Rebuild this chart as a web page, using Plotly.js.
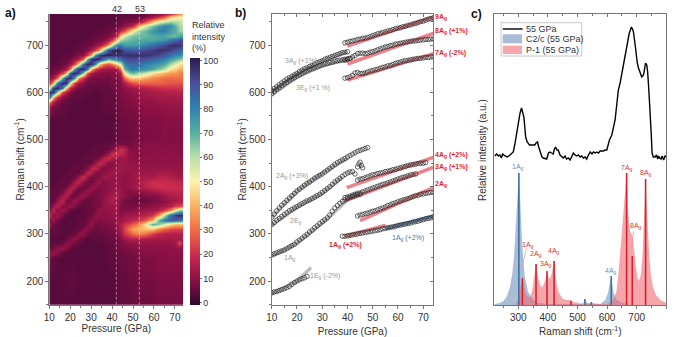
<!DOCTYPE html>
<html><head><meta charset="utf-8">
<script src="https://cdn.plot.ly/plotly-3.0.1.min.js"></script>
<style>html,body{margin:0;padding:0;background:#fff}#g{width:674px;height:337px}</style>
</head><body><div id="g"></div>
<script>
// ---------- panel a: intensity map ----------
const mapPressure=[10,12,14,16,18,20,22,24,26,28,30,32,34,36,38,40,42,44,46,48,50,53,56,59,62,65,68,70,72,74];
const mapShift=[150,200,250,260,270,280,290,300,310,320,330,340,350,360,370,380,390,400,410,420,430,440,450,460,470,480,490,500,540,570,580,590,600,610,620,630,640,650,660,670,680,690,700,710,720,730,740,750,760,766];
const mapIntensity=[
[4,4,4,4,4,4,4,4,4,4,4,4,4,4,4,4,5,5,5,5,6,6,6,6,7,7,7,7,7,7],
[4,4,4,4,5,5,5,4,4,4,4,4,4,4,4,4,5,5,5,6,6,7,7,7,8,8,8,8,8,8],
[7,5,4,4,4,4,4,4,4,4,4,4,4,4,5,5,5,6,6,7,7,8,8,8,9,9,9,9,9,9],
[11,11,9,5,4,4,4,4,4,4,4,4,4,4,5,5,5,6,7,7,8,8,9,9,9,9,10,10,10,10],
[5,7,10,11,9,5,4,4,4,4,4,4,4,4,5,5,6,7,8,8,9,9,9,10,9,10,10,10,11,10],
[4,5,5,6,10,10,6,5,4,4,4,4,4,5,5,5,6,8,9,10,11,11,11,11,11,11,11,12,26,12],
[4,4,4,4,5,8,11,8,5,4,4,5,5,5,6,6,7,9,12,15,16,15,14,14,13,13,13,14,14,14],
[5,5,5,4,4,5,6,10,10,6,5,5,5,6,6,7,8,12,20,25,30,32,30,22,18,16,15,15,15,16],
[5,5,5,4,4,4,4,5,9,10,7,6,6,7,7,8,10,14,24,32,38,40,42,42,34,28,25,24,24,24],
[12,6,5,4,4,4,4,5,5,8,11,7,7,8,8,9,11,14,20,24,28,34,48,70,66,56,46,42,42,44],
[8,12,7,4,4,4,4,5,5,6,9,10,8,9,9,10,12,12,14,16,18,22,26,38,68,82,88,88,84,80],
[19,9,12,8,4,4,4,4,5,6,6,10,10,9,10,11,12,10,12,12,13,15,17,20,34,58,84,94,98,95],
[9,18,8,12,10,5,4,4,5,5,6,7,11,10,11,12,13,8,8,9,10,11,12,13,15,22,32,50,62,65],
[5,11,18,8,10,12,8,5,5,5,6,7,8,11,11,12,14,8,7,7,7,8,9,10,11,13,16,22,24,28],
[5,5,11,18,7,8,12,10,5,5,6,7,8,10,14,14,14,9,7,6,6,6,6,7,8,10,12,14,15,16],
[5,5,6,13,16,7,6,10,12,8,6,7,8,10,12,14,16,12,10,8,7,7,8,8,9,12,14,15,16,17],
[5,5,5,6,14,16,7,5,8,12,10,7,8,9,10,12,13,12,10,9,10,11,12,13,15,17,18,18,18,18],
[4,5,5,5,6,14,16,8,6,7,11,11,8,9,10,11,12,11,10,11,13,15,17,19,20,20,20,20,19,19],
[4,4,5,5,5,6,14,18,10,6,6,10,12,9,10,11,11,11,10,11,12,14,17,20,20,19,19,18,18,17],
[4,4,4,5,5,5,6,12,20,12,6,7,9,12,12,11,11,11,10,11,12,14,14,14,16,17,15,14,14,14],
[4,4,4,4,5,5,5,5,9,18,15,8,8,10,11,13,13,12,11,11,12,12,12,12,14,14,13,12,12,12],
[4,4,4,4,4,5,5,5,5,8,17,19,12,8,9,11,11,13,12,11,11,11,11,11,11,12,11,11,11,11],
[4,4,4,4,4,4,5,5,5,5,6,12,19,16,9,10,11,12,12,11,11,10,10,10,10,10,10,10,10,10],
[4,4,4,4,4,4,4,4,5,5,5,6,8,16,20,14,13,12,13,10,10,10,10,10,10,10,10,10,10,10],
[4,4,4,4,4,4,4,4,4,5,5,5,5,6,12,21,20,18,15,10,10,9,9,10,10,9,10,10,9,10],
[4,4,4,4,4,4,4,4,4,4,5,5,5,5,6,9,14,20,18,8,9,9,9,9,9,10,9,9,9,9],
[4,4,4,4,4,4,4,4,4,4,4,4,5,5,5,6,7,8,7,7,8,8,9,9,9,9,9,9,9,9],
[4,4,4,4,4,4,4,4,4,4,4,4,4,4,4,5,5,6,6,6,7,7,8,8,8,9,8,8,9,8],
[4,4,4,4,4,4,4,4,4,4,4,4,4,4,4,4,5,6,6,7,7,8,8,8,8,9,9,9,9,9],
[12,7,6,5,5,4,4,4,4,4,4,4,4,5,5,5,6,7,7,8,8,9,10,10,10,10,11,11,11,11],
[32,14,9,6,5,5,4,4,4,4,4,4,4,5,5,5,6,7,8,8,9,10,10,11,11,12,12,12,12,12],
[90,40,19,10,7,6,5,5,5,4,4,4,4,5,5,5,6,8,8,9,10,11,12,12,13,13,13,14,14,14],
[98,96,62,25,14,8,6,5,5,5,5,4,4,5,5,6,7,8,9,10,11,12,13,14,15,16,16,16,16,16],
[50,96,99,82,40,17,10,7,6,5,5,5,5,5,5,6,7,8,10,12,13,14,16,18,19,20,20,20,21,21],
[17,40,85,99,96,50,23,13,9,6,6,6,6,6,6,7,7,9,14,22,26,28,28,28,28,28,26,26,26,26],
[8,14,28,70,96,98,76,36,19,10,7,7,7,7,7,8,8,10,28,42,44,42,38,34,32,30,30,30,30,30],
[6,7,11,21,40,90,100,93,62,25,14,10,9,9,8,9,9,14,50,65,68,62,58,48,44,40,36,36,34,32],
[5,6,6,9,14,32,76,97,99,82,40,23,16,13,12,12,12,30,70,80,82,78,76,72,66,60,48,44,40,38],
[4,5,5,6,7,12,23,45,85,99,96,76,45,32,26,33,42,55,80,84,85,84,80,78,75,72,62,54,48,44],
[4,4,4,5,5,7,10,15,28,70,96,100,97,85,70,76,82,84,90,92,92,90,90,86,84,80,74,70,66,60],
[4,4,4,4,5,5,6,8,11,21,40,76,93,99,100,97,97,96,96,97,97,97,96,95,93,88,84,80,78,72],
[4,4,4,4,4,4,5,5,6,9,14,23,36,62,90,97,100,98,90,90,88,90,92,94,97,96,94,90,88,84],
[4,4,4,4,4,4,4,5,5,6,7,10,13,19,35,58,78,80,74,74,74,76,80,84,88,92,96,97,96,92],
[4,4,4,4,4,4,4,4,4,5,6,6,7,9,14,24,42,62,66,68,70,70,72,72,74,76,82,86,90,90],
[4,4,4,4,4,4,4,4,4,4,5,5,6,6,8,11,16,44,56,64,67,68,68,70,72,72,68,68,72,74],
[4,4,4,4,4,4,4,4,4,4,4,4,5,5,6,7,9,18,26,42,54,64,68,76,80,80,74,70,64,62],
[4,4,4,4,4,4,4,4,4,4,4,4,4,4,5,5,6,8,11,15,20,44,56,66,74,80,78,70,62,58],
[4,4,4,4,4,4,4,4,4,4,4,4,4,4,4,4,5,6,7,8,9,14,26,42,54,60,64,62,60,56],
[4,4,4,4,4,4,4,4,4,4,4,4,4,4,4,4,4,5,5,5,5,6,8,13,20,28,44,48,50,50],
[4,4,4,4,4,4,4,4,4,4,4,4,4,4,4,4,4,5,5,5,5,5,6,8,10,14,20,30,35,40]];
const mapStops=['#2f0a2c','#5a0a3c','#8a1044','#c92a4e','#ee6a44','#fab262','#fdf2ae','#b8dfa9','#55ad9f','#2f80b0','#4b4e9b','#2a1c47'];
const mapStopAt=[0,.05,.1,.2,.3,.4,.5,.6,.7,.8,.9,1];
const transitions=[42,53];

// ---------- panel b: mode positions ----------
const pressures=[10,11,12,13,14,15,16,17,18,19,20,21,22,23,24,25,26,27,28,29,30,31,32,33,34,35,36,37,38,39,40,41,42,43,44,45,46,47,48,49,50,51,52,53,54,55,56,57,58,59,60,61,62,63,64,65,66,67,68,69,70,71,72,73,74];
const from=(start,vals)=>pressures.slice(start-10,start-10+vals.length);
const m3Ag=[604,608,612,616,620,624,628,631,634,637,640,644,647,650,652,655,657,660,663,665,667,670,672,674,676,678,680,682,684,685,686];
const m3Eg=[597,602,606,610,614,618,621,625,628,631,634,637,640,643,645,648,650,652,654,656,658,660,661,663,664,666,667,668,669,670,671,672];
const m9A=[705,706,708,709,710,712,713,714,715,716,718,720,722,724,725,727,728,730,731,733,735,736,737,739,740,742,743,745,746,748,750,751,753,755,756,758];
const m8A=[668,670,672,675,678,682,683,683,682,683,685,686,688,690,692,694,696,697,699,700,702,703,704,705,706,707,708,709,709,710,711,711,712,712,713,713];
const m7A=[630,631,633,636,641,642,640,640,641,643,645,646,648,649,651,653,654,656,657,659,661,663,664,666,667,668,669,670,671,672,672,673,674,674,675,675];
const m4A=[414,416,417,419,421,423,425,426,428,429,430,432,433,434,436,437,439,440,442,443,445,446,447,448,449,450,450,451];
const m3A=[377,378,380,382,384,386,387,389,391,393,395,397,399,401,403,405,406,408,410,412,414,416,418,420,421,423,425,426,427];
const m2A=[338,340,341,343,344,346,348,349,351,353,355,357,360,362,364,366,368,370,372,373,375,377,379,381,382,384,385,386,387,388,388];
const m1Ahigh=[295,295,296,297,298,299,300,301,302,303,304,305,306,307,308,309,311,312,313,314,315,316,318,319,320,321,322,323,325,326,327,329,330,332,333,334,336];
const m2Ag=[335,342,349,355,361,366,371,376,381,386,391,395,399,403,407,410,414,418,421,424,427,431,435,439,443,447,451,454,457,460,463,466,469,472,475,477,479,481,483];
const m2Eg=[320,324,329,333,337,341,345,349,352,355,358,361,364,367,370,372,375,378,381,384,388,392,396,400,405,410,414,418,422,426,429,431,432,427];
const m1Ag=[256,258,260,262,264,266,269,272,275,278,283,287,291,295,299,304,308,313,317,322,326,330,334,340,348,355,360,365,369,372,375,377,379,381,383,384];
const m1Eg=[175,177,178,180,182,184,186,189,193,197,200,203,205,207,210];
const clusterP=[44,44.5,45,45.5,46], clusterW=[442,448,452,445,440];
const modeSeries=[[10,m3Ag],[10,m3Eg],[39,m9A],[39,m8A],[39,m7A],[44,m4A],[39,m3A],[44,m2A],[38,m1Ahigh],[10,m2Ag],[10,m2Eg],[10,m1Ag],[10,m1Eg]];
const calcGrey=[[[10,20,30,40],[601,640,666,686]],[[10,20,30,41],[594,632,656,670]],[[10,20,30,40],[335,390,428,460]],[[10,20,30,38],[318,356,385,420]],[[10,20,30,40],[252,280,322,372]],[[10,20,25.6],[173,200,229]]];
const calcRed=[[[40,74],[698,760]],[[40,74],[660,725]],[[40,74],[626,682]],[[39.7,74],[398,462]],[[39,74],[370,441]],[[45,74],[328,398]],[[39,55],[295,318]]];
const calcBlue=[[55,74],[311,338]];

// ---------- panel c: spectra ----------
const expX=[220,227,233,238,243,247,255,263,272,283,288,294,298,302,306,311,315,319,325,330,338,345,356,360,365,369,373,380,385,396,402,407,412,418,422,426,431,435,441,447,452,458,463,469,475,480,486,492,497,503,509,514,520,526,531,537,543,549,554,560,565,571,576,582,588,593,599,608,616,627,633,638,644,650,658,663,667,671,675,679,682,686,689,694,698,702,706,712,717,723,727,730,734,737,741,746,749,752,756,762,767,771,774,778,782,786,791,796,800];
const expY=[149,151,149,150,147,151,149,148,150,153,160,172,180,186,192,197,191,188,168,163,160,160,160,162,163,158,155,148,147,146,152,153,152,151,156,158,155,155,150,148,147,149,146,147,145,148,152,150,149,150,148,149,147,148,146,150,153,151,153,152,153,152,154,154,154,155,155,165,170,185,203,215,222,232,243,252,262,267,272,275,278,276,273,262,248,242,237,232,228,230,236,242,240,233,215,192,172,152,148,148,150,146,149,147,146,149,145,149,148];
const blueX=[220,238,250,262,272,280,286,291,295,299,302,305,309,313,318,322,328,333,342,350,362,373,407,514,520,525,530,536,548,577,594,603,608,614,618,621,627,633,645,655,678];
const blueY=[1,2,4,9,18,32,50,75,97,120,132,115,85,62,42,28,20,13,9,6,3,2,1,1,2,6,3,2,2,1,5,12,20,29,20,14,8,5,3,2,0];
const pinkX=[220,290,300,306,310,314,318,325,332,340,347,353,358,360,363,368,375,382,390,395,397,400,405,412,418,421,424,430,438,448,460,470,478,486,500,520,600,612,622,632,638,644,650,655,661,664,666,670,675,680,685,690,696,702,708,714,720,725,728,730,733,737,742,748,755,765,780,800];
const pinkY=[0,0,6,14,22,27,20,12,8,8,14,26,38,41,34,26,19,18,24,32,34,29,26,30,41,44,34,20,12,7,5,5,5,3,2,1,1,3,6,14,30,52,72,88,110,125,132,98,78,72,70,58,40,28,24,30,52,90,112,125,105,78,50,30,18,10,5,2];
const blueStickX=[302,525,547,614], blueStickY=[132,6,3,29];
const redStickX=[314,360,397,421,478,666,685,730], redStickY=[27,41,34,44,4,132,49,126];

const FONT='"Liberation Sans", Arial, sans-serif', INK='#333', AXIS='#777';
const X=p=>p/674, Y=p=>1-p/337;
const traces=[];
traces.push({type:'heatmap',x:mapPressure,y:mapShift,z:mapIntensity,zsmooth:'best',zmin:-1,zmax:101,
  colorscale:mapStopAt.map((s,i)=>[s,mapStops[i]]),xaxis:'x',yaxis:'y',
  colorbar:{x:X(190),xanchor:'left',y:Y(305),yanchor:'bottom',lenmode:'pixels',len:247,thicknessmode:'pixels',thickness:10,xpad:0,ypad:0,outlinewidth:0,tick0:0,dtick:10,ticks:'outside',ticklen:2,tickcolor:'#777',tickfont:{family:FONT,size:9,color:INK}}});
const grey='rgba(170,170,170,.75)', red='rgba(232,80,92,.72)', blue='rgba(80,120,170,.8)';
calcGrey.forEach(l=>traces.push({type:'scatter',mode:'lines',x:l[0],y:l[1],line:{color:grey,width:3.5},xaxis:'x2',yaxis:'y2',showlegend:false}));
calcRed.forEach(l=>traces.push({type:'scatter',mode:'lines',x:l[0],y:l[1],line:{color:red,width:3.5},xaxis:'x2',yaxis:'y2',showlegend:false}));
traces.push({type:'scatter',mode:'lines',x:calcBlue[0],y:calcBlue[1],line:{color:blue,width:3.5},xaxis:'x2',yaxis:'y2',showlegend:false});
const ring={symbol:'circle-open',size:4.5,color:'#2a2a2a',line:{width:.7}};
modeSeries.forEach(s=>traces.push({type:'scatter',mode:'markers',x:from(s[0],s[1]),y:s[1],marker:ring,xaxis:'x2',yaxis:'y2',showlegend:false}));
traces.push({type:'scatter',mode:'markers',x:clusterP,y:clusterW,marker:ring,xaxis:'x2',yaxis:'y2',showlegend:false});
traces.push({type:'scatter',mode:'lines',x:[10],y:[200],opacity:0,xaxis:'x4',yaxis:'y4',showlegend:false});
traces.push({type:'scatter',mode:'lines',x:[300],y:[10],opacity:0,xaxis:'x5',yaxis:'y5',showlegend:false});
traces.push({type:'scatter',mode:'lines',name:'C2/c (55 GPa)',x:blueX,y:blueY,fill:'tozeroy',fillcolor:'rgba(82,125,175,.5)',line:{width:0,color:'rgba(82,125,175,.5)'},xaxis:'x3',yaxis:'y3',showlegend:false});
traces.push({type:'scatter',mode:'lines',name:'P-1 (55 GPa)',x:pinkX,y:pinkY,fill:'tozeroy',fillcolor:'rgba(240,105,115,.6)',line:{width:0,color:'rgba(240,105,115,.6)'},xaxis:'x3',yaxis:'y3',showlegend:false});
const sticks=(xs,ys)=>({x:xs.flatMap(v=>[v,v,null]),y:ys.flatMap(v=>[0,v,null])});
traces.push(Object.assign({type:'scatter',mode:'lines',line:{color:'#3f70a8',width:1.6},xaxis:'x3',yaxis:'y3',showlegend:false},sticks(blueStickX,blueStickY)));
traces.push(Object.assign({type:'scatter',mode:'lines',line:{color:'#d4232c',width:1.6},xaxis:'x3',yaxis:'y3',showlegend:false},sticks(redStickX,redStickY)));
traces.push({type:'scatter',mode:'lines',x:[312,328],y:[38,57],line:{color:'#e88',width:.6},xaxis:'x3',yaxis:'y3',showlegend:false});
traces.push({type:'scatter',mode:'lines',x:[682,690],y:[56,74],line:{color:'#e88',width:.6},xaxis:'x3',yaxis:'y3',showlegend:false});
traces.push({type:'scatter',mode:'lines',name:'55 GPa',x:expX,y:expY,line:{color:'#000',width:1.4},xaxis:'x3',yaxis:'y3',showlegend:false});

const tf={family:FONT,size:10,color:INK}, titleF={family:FONT,size:10,color:INK};
const base={showgrid:false,zeroline:false,ticks:'outside',ticklen:3,tickwidth:.8,tickcolor:'#555',linecolor:AXIS,linewidth:1,showline:true,tickfont:tf};
const layout={width:674,height:337,margin:{l:0,r:0,t:0,b:0},paper_bgcolor:'#fff',plot_bgcolor:'#fff',font:{family:FONT},
  xaxis:Object.assign({},base,{domain:[X(49.3),X(183.3)],range:[10,74],dtick:10,tick0:10,anchor:'y',minor:{ticks:'outside',dtick:5,ticklen:2,tickcolor:'#555'},title:{text:'Pressure (GPa)',font:titleF,standoff:3}}),
  yaxis:Object.assign({},base,{domain:[1-304.7/337,1-14/337],range:[150,766],dtick:100,tick0:200,anchor:'x',minor:{ticks:'outside',dtick:50,ticklen:2,tickcolor:'#555'},title:{text:'Raman shift (cm<sup>-1</sup>)',font:titleF,standoff:0}}),
  xaxis2:Object.assign({},base,{domain:[X(271.7),X(433.3)],range:[10,74],dtick:10,tick0:10,anchor:'y2',minor:{ticks:'outside',dtick:5,ticklen:2,tickcolor:'#555'},title:{text:'Pressure (GPa)',font:titleF,standoff:6}}),
  yaxis2:Object.assign({},base,{domain:[1-304.7/337,1-14/337],range:[150,766],dtick:100,tick0:200,anchor:'x2',minor:{ticks:'outside',dtick:50,ticklen:2,tickcolor:'#555'},title:{text:'Raman shift (cm<sup>-1</sup>)',font:titleF,standoff:0}}),
  xaxis4:Object.assign({},base,{overlaying:'x2',side:'top',anchor:'y4',range:[10,74],dtick:10,tick0:10,ticks:'inside',showticklabels:false,minor:{ticks:'inside',dtick:5,ticklen:2,tickcolor:'#555'}}),
  yaxis4:Object.assign({},base,{overlaying:'y2',side:'right',anchor:'x4',range:[150,766],dtick:100,tick0:200,ticks:'inside',showticklabels:false,minor:{ticks:'inside',dtick:50,ticklen:2,tickcolor:'#555'}}),
  xaxis3:Object.assign({},base,{domain:[X(494.3),X(666.3)],range:[219,800],dtick:100,tick0:300,anchor:'y3',minor:{ticks:'outside',dtick:50,ticklen:2,tickcolor:'#555'},title:{text:'Raman shift (cm<sup>-1</sup>)',font:titleF,standoff:7}}),
  yaxis3:Object.assign({},base,{domain:[1-305/337,1-14/337],range:[0,291],anchor:'x3',ticks:'',showticklabels:false}),
  xaxis5:Object.assign({},base,{overlaying:'x3',side:'top',anchor:'y5',range:[219,800],dtick:100,tick0:300,ticks:'inside',showticklabels:false,minor:{ticks:'inside',dtick:50,ticklen:2,tickcolor:'#555'}}),
  yaxis5:Object.assign({},base,{overlaying:'y3',side:'right',anchor:'x5',range:[0,291],ticks:'',showticklabels:false}),
  showlegend:false,
  shapes:transitions.map(p=>({type:'line',xref:'x',yref:'y',x0:p,x1:p,y0:150,y1:766,line:{color:'rgba(255,255,255,.55)',width:.8,dash:'3px,2px'}})),
  annotations:[]};
const box=(x0,y0,x1,y1,fill,lineColor)=>layout.shapes.push({type:'rect',xref:'paper',yref:'paper',x0:X(x0),x1:X(x1),y0:Y(y0),y1:Y(y1),fillcolor:fill,line:{color:lineColor||fill,width:lineColor?.8:0}});
box(501,22.7,581.7,56,'#fff','#bbb');
layout.shapes.push({type:'line',xref:'paper',yref:'paper',x0:X(502.7),x1:X(522.7),y0:Y(29),y1:Y(29),line:{color:'#000',width:1.4}});
box(502.7,34.3,522,43.3,'#a9bdd6');
box(502.7,45.7,522,54,'#f6a6ac');
const note=(text,px,py,opt={})=>{const {font,...rest}=opt;layout.annotations.push(Object.assign({text,xref:'paper',yref:'paper',x:X(px),y:Y(py),showarrow:false,xanchor:'center',yanchor:'middle',borderpad:0,font:Object.assign({family:FONT,size:7,color:'#999'},font||{})},rest));};
const sg='<sub>g</sub>';
[['a)',10,13.5],['b)',240,13.5],['c)',477,14]].forEach(l=>note('<b>'+l[0]+'</b>',l[1],l[2],{font:{size:12,color:'#111'}}));
[['42',116.7,9],['53',140,9]].forEach(l=>note(l[0],l[1],l[2],{font:{size:9,color:INK}}));
note('Relative<br>intensity<br>(%)',190.5,36.5,{xanchor:'left',align:'left',font:{size:9,color:INK}});
[['55 GPa',29],['C2/c (55 GPa)',39],['P-1 (55 GPa)',50]].forEach(l=>note(l[0],525,l[1],{xanchor:'left',font:{size:9,color:INK}}));
[['3A'+sg+' (+1%)',300.7,60.7],['3E'+sg+' (+1 %)',312.7,87.7],['2A'+sg+' (+3%)',292.3,175.7],['2E'+sg,295.7,220.7],['1A'+sg,290,257.7],['1E'+sg+' (-2%)',325,275.7]].forEach(l=>note(l[0],l[1],l[2]));
[['9A'+sg,17.3],['8A'+sg+' (+1%)',30.7],['7A'+sg+' (-2%)',53],['4A'+sg+' (+2%)',155],['3A'+sg+' (+1%)',167.3],['2A'+sg,184]].forEach(l=>note('<b>'+l[0]+'</b>',434.3,l[1],{xanchor:'left',font:{color:'#e0242c'}}));
note('<b>1A'+sg+' (+2%)</b>',345,245,{font:{color:'#d8232c'}});
note('1A'+sg+' (+2%)',408.3,237.7,{font:{color:'#4f75a8'}});
[['1A'+sg,518.3,166.7,'#6f8fb5'],['4A'+sg,611,271,'#6f8fb5'],['7A'+sg,626.7,167.7,'#d8343c'],['8A'+sg,645.7,173.3,'#d8343c'],['8A'+sg,636,226,'#d8343c'],['1A'+sg,527.7,245,'#d8343c'],['2A'+sg,536,253.7,'#d8343c'],['3A'+sg,546,264.3,'#d8343c'],['4A'+sg,553.7,251,'#d8343c']].forEach(l=>note(l[0],l[1],l[2],{font:{color:l[3]}}));
note('Relative intensity (a.u.)',482,150,{textangle:-90,font:{size:10,color:INK}});
Plotly.newPlot('g',traces,layout,{displayModeBar:false,staticPlot:true});
</script></body></html>
